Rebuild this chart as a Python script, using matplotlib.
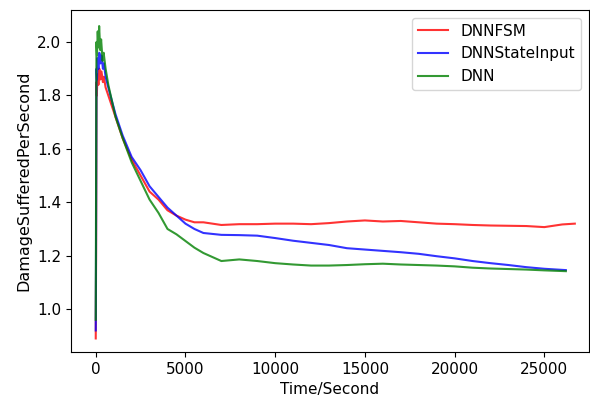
import matplotlib
matplotlib.use('Agg')
import matplotlib.pyplot as plt
import numpy as np

# DNNFSM
t_fsm = [0, 20, 40, 60, 100, 150, 200, 260, 320, 400, 450, 550, 700, 900, 1100, 1500,
         2000, 2500, 3000, 3500, 4000, 4500, 5000, 5500, 6000, 7000, 8000, 9000, 10000,
         11000, 12000, 13000, 14000, 15000, 16000, 17000, 18000, 19000, 20000, 21000,
         22000, 23000, 24000, 25000, 25500, 26000, 26700]
y_fsm = [0.89, 1.2, 1.85, 1.80, 1.88, 1.84, 1.90, 1.86, 1.89, 1.85, 1.87, 1.83, 1.80,
         1.76, 1.72, 1.64, 1.56, 1.50, 1.44, 1.41, 1.37, 1.35, 1.335, 1.325, 1.325,
         1.315, 1.318, 1.318, 1.32, 1.32, 1.318, 1.322, 1.328, 1.332, 1.328, 1.33,
         1.325, 1.32, 1.318, 1.315, 1.313, 1.312, 1.311, 1.307, 1.312, 1.317, 1.32]

# DNNStateInput
t_si = [0, 20, 40, 70, 100, 150, 200, 260, 320, 400, 450, 550, 700, 900, 1100, 1500,
        2000, 2500, 3000, 3500, 4000, 4500, 5000, 5500, 6000, 7000, 8000, 9000, 10000,
        11000, 12000, 13000, 14000, 15000, 16000, 17000, 18000, 19000, 20000, 21000,
        22000, 23000, 24000, 25000, 26200]
y_si = [0.92, 1.3, 1.90, 1.86, 1.94, 1.90, 1.96, 1.92, 1.95, 1.90, 1.92, 1.87, 1.83,
        1.78, 1.73, 1.65, 1.57, 1.52, 1.46, 1.42, 1.38, 1.35, 1.32, 1.30, 1.285,
        1.278, 1.277, 1.275, 1.266, 1.256, 1.248, 1.24, 1.228, 1.223, 1.218, 1.213,
        1.207, 1.198, 1.19, 1.18, 1.172, 1.165, 1.157, 1.151, 1.146]

# DNN
t_dnn = [0, 20, 40, 70, 110, 150, 190, 250, 300, 380, 440, 550, 700, 900, 1100, 1500,
         2000, 2500, 3000, 3500, 4000, 4500, 5000, 5500, 6000, 7000, 8000, 9000, 10000,
         11000, 12000, 13000, 14000, 15000, 16000, 17000, 18000, 19000, 20000, 21000,
         22000, 23000, 24000, 25000, 26200]
y_dnn = [0.96, 1.5, 2.0, 1.95, 2.04, 1.98, 2.06, 1.97, 2.01, 1.93, 1.96, 1.90, 1.84,
         1.78, 1.72, 1.64, 1.55, 1.48, 1.41, 1.36, 1.30, 1.28, 1.255, 1.23, 1.21,
         1.18, 1.186, 1.18, 1.172, 1.167, 1.163, 1.163, 1.165, 1.168, 1.17, 1.167,
         1.165, 1.163, 1.16, 1.155, 1.152, 1.15, 1.148, 1.145, 1.142]

plt.rcParams['font.size'] = 11

fig = plt.figure(figsize=(5.9, 4.01), dpi=100)
ax = fig.add_axes([0.12, 0.122, 0.878, 0.853])
ax.plot(t_fsm, y_fsm, color='r', alpha=0.8, label='DNNFSM')
ax.plot(t_si, y_si, color='b', alpha=0.8, label='DNNStateInput')
ax.plot(t_dnn, y_dnn, color='g', alpha=0.8, label='DNN')
ax.set_xlabel('Time/Second')
ax.set_ylabel('DamageSufferedPerSecond', fontsize=11.5)
ax.set_xticks([0, 5000, 10000, 15000, 20000, 25000])
ax.set_yticks([1.0, 1.2, 1.4, 1.6, 1.8, 2.0])
ax.set_xlim(-1390, 27480)
ax.set_ylim(0.839, 2.12)
ax.legend(loc='upper right', fontsize=11)
fig.savefig('out.png', dpi=100)
